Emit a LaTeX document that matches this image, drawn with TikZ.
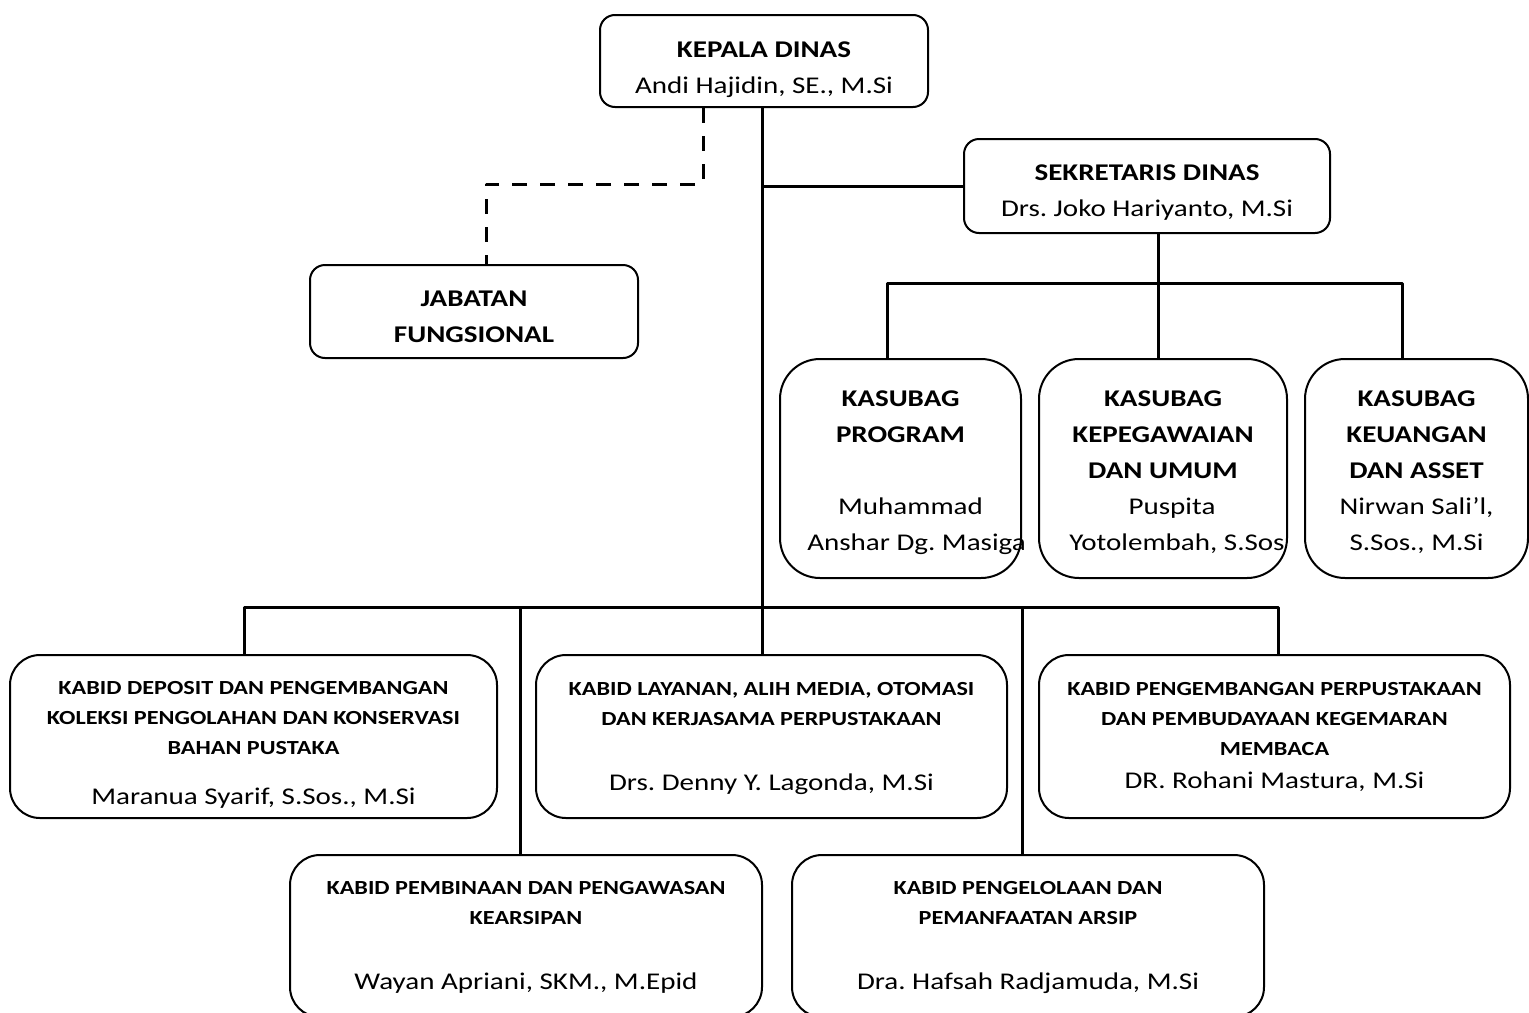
\documentclass[tikz,border=0pt]{standalone}
\usepackage{fontspec}
\setmainfont{Carlito}[FakeStretch=1.21]
\usetikzlibrary{positioning}
\frenchspacing

\begin{document}
\begin{tikzpicture}[x=0.5pt, y=-0.5pt, line join=round,
    box/.style={draw, line width=1pt, rounded corners=7.5pt, align=center,
      inner sep=0pt, font=\fontsize{12}{18}\selectfont},
    subbox/.style={box, rounded corners=20pt, minimum height=109.5pt},
    bidbox/.style={box, rounded corners=15pt, minimum height=81.5pt,
      font=\fontsize{10}{15}\selectfont},
    link/.style={line width=1.5pt},
    dashlink/.style={link, dash pattern=on 7.5pt off 6.5pt}]
  \newcommand{\hd}[1]{{\bfseries\fontsize{10}{15}\selectfont #1}}
  \newcommand{\nm}[1]{{\fontsize{12}{15}\selectfont #1}}
  \newcommand{\lift}[1]{\rule{0pt}{#1}}
  \useasboundingbox (0,0) rectangle (1529,1012);

  % pimpinan
  \node[box, minimum width=164pt, minimum height=46pt] (kepala) at (764,61)
    {\lift{16.1pt}\textbf{KEPALA DINAS}\\Andi Hajidin, SE., M.Si};
  \node[box, minimum width=183pt, minimum height=47pt] (sekretaris) at (1147,186)
    {\lift{14.6pt}\textbf{SEKRETARIS DINAS}\\Drs. Joko Hariyanto, M.Si};
  \node[box, minimum width=164pt, minimum height=46.5pt] (jabatan) at (474,311.5)
    {\lift{12.6pt}\textbf{JABATAN}\\\textbf{FUNGSIONAL}};

  % kasubag
  \node[subbox, minimum width=120.5pt] (program) at (900.5,468.5)
    {\lift{11.6pt}\textbf{KASUBAG}\\\textbf{PROGRAM}\\[18pt]\hspace*{10pt}Muhammad\\\hspace*{16pt}\makebox[100pt]{Anshar Dg. Masiga}};
  \node[subbox, minimum width=124pt] (kepegawaian) at (1163,468.5)
    {\lift{11.6pt}\textbf{KASUBAG}\\\textbf{KEPEGAWAIAN}\\\textbf{DAN UMUM}\\\hspace*{9pt}Puspita\\\hspace*{14pt}\makebox[104pt]{Yotolembah, S.Sos}};
  \node[subbox, minimum width=111.5pt] (keuangan) at (1416.5,468.5)
    {\lift{11.6pt}\textbf{KASUBAG}\\\textbf{KEUANGAN}\\\textbf{DAN ASSET}\\Nirwan Sali’l,\\S.Sos., M.Si};

  % kabid
  \node[bidbox, minimum width=243.5pt] (deposit) at (253.5,736.5)
    {\lift{15.3pt}\hd{KABID DEPOSIT DAN PENGEMBANGAN}\\\hd{KOLEKSI PENGOLAHAN DAN KONSERVASI}\\\hd{BAHAN PUSTAKA}\\[10pt]\nm{Maranua Syarif, S.Sos., M.Si}};
  \node[bidbox, minimum width=235.5pt] (layanan) at (771.5,736.5)
    {\lift{8.3pt}\hd{KABID LAYANAN, ALIH MEDIA, OTOMASI}\\\hd{DAN KERJASAMA PERPUSTAKAAN}\\[17.5pt]\nm{Drs. Denny Y. Lagonda, M.Si}};
  \node[bidbox, minimum width=235.5pt] (pengembangan) at (1274.5,736.5)
    {\hd{KABID PENGEMBANGAN PERPUSTAKAAN}\\\hd{DAN PEMBUDAYAAN KEGEMARAN}\\\hd{MEMBACA}\\[1.5pt]\nm{DR. Rohani Mastura, M.Si}};
  \node[bidbox, minimum width=236pt, minimum height=81pt] (pembinaan) at (526,936)
    {\lift{8.3pt}\hd{KABID PEMBINAAN DAN PENGAWASAN}\\\hd{KEARSIPAN}\\[17.5pt]\nm{Wayan Apriani, SKM., M.Epid}};
  \node[bidbox, minimum width=236pt, minimum height=81pt] (pengelolaan) at (1028,936)
    {\lift{8.3pt}\hd{KABID PENGELOLAAN DAN}\\\hd{PEMANFAATAN ARSIP}\\[17.5pt]\nm{Dra. Hafsah Radjamuda, M.Si}};

  % titik cabang
  \coordinate (bus) at (762,607);
  \coordinate (busL) at (244,607);
  \coordinate (busR) at (1278,607);
  \coordinate (busA) at (520,607);
  \coordinate (busB) at (1022,607);
  \coordinate (subM) at (1158,283);
  \coordinate (subL) at (887,283);
  \coordinate (subR) at (1402,283);
  \coordinate (fung) at (703,184);
  \coordinate (fungL) at (486,184);

  % garis komando
  \draw[link] (kepala.south -| bus) -- (bus) -- (layanan.north -| bus);
  \draw[link] (sekretaris.west) -- (sekretaris.west -| bus);
  \draw[link] (deposit.north -| busL) -- (busL) -- (busR) -- (pengembangan.north -| busR);
  \draw[link] (busA) -- (pembinaan.north -| busA);
  \draw[link] (busB) -- (pengelolaan.north -| busB);

  \draw[link] (sekretaris.south -| subM) -- (subM) -- (kepegawaian.north -| subM);
  \draw[link] (program.north -| subL) -- (subL) -- (subR) -- (keuangan.north -| subR);

  % garis koordinasi
  \draw[dashlink] (kepala.south -| fung) -- (fung) -- (fungL) -- (jabatan.north -| fungL);
\end{tikzpicture}
\end{document}
